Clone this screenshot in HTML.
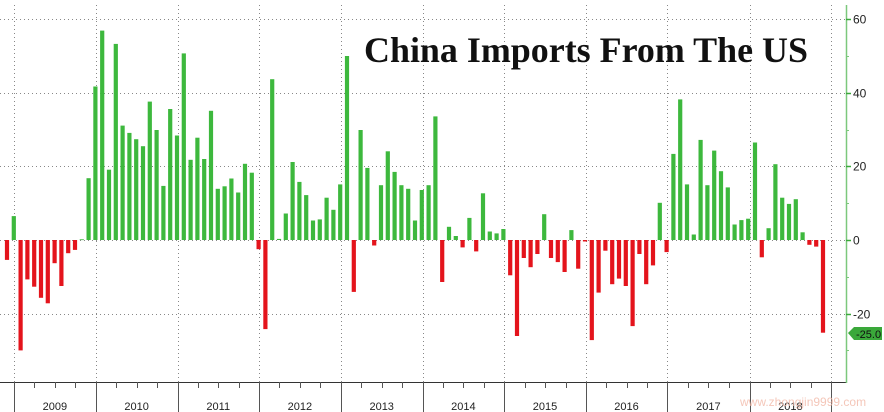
<!DOCTYPE html>
<html><head><meta charset="utf-8"><style>
html,body{margin:0;padding:0;background:#fff;width:884px;height:412px;overflow:hidden}
svg{display:block}
</style></head><body>
<svg id="s" width="884" height="412" xmlns="http://www.w3.org/2000/svg" font-family="Liberation Sans, sans-serif">
<rect width="884" height="412" fill="#fff"/>
<g id="grid" stroke="#888" stroke-width="1" stroke-dasharray="1,3"></g>
<g id="bars"></g>
<line x1="0" y1="382.5" x2="846" y2="382.5" stroke="#333" stroke-width="1"/>
<g id="ax" stroke="#555" stroke-width="1"></g>
<line x1="846.5" y1="5" x2="846.5" y2="383" stroke="#7cc87c" stroke-width="1.5"/>
<g id="yl" font-size="12" fill="#222"></g>
<g id="xl" font-size="11" fill="#222" text-anchor="middle"></g>
<polygon points="848,333 854,327 882,327 882,340 854,340" fill="#3aa83a"/>
<text x="856" y="338" font-size="11" fill="#111">-25.0</text>
<text x="364" y="62" font-family="Liberation Serif, serif" font-weight="bold" font-size="36" fill="#111" textLength="444" lengthAdjust="spacingAndGlyphs">China Imports From The US</text>
<text x="740" y="406" font-size="12" fill="#f2b9a8" opacity="0.8">www.zhongjin9999.com</text>
</svg>
<script>
var NS="http://www.w3.org/2000/svg";
function el(p,t,a,txt){var e=document.createElementNS(NS,t);for(var k in a)e.setAttribute(k,a[k]);if(txt!=null)e.textContent=txt;document.getElementById(p).appendChild(e);}
var Z=240,S=3.68;
// horizontal grid
[60,40,20,0,-20].forEach(function(v){var y=Math.round(Z-v*S)+0.5;el("grid","line",{x1:0,y1:y,x2:846,y2:y});
 el("yl","text",{x:853,y:y+4},String(v));
 el("yl","line",{x1:846,y1:y,x2:851,y2:y,stroke:"#3aa83a","stroke-width":1.5});});
// minor ticks on right axis
[50,30,10,-10,-30].forEach(function(v){var y=Math.round(Z-v*S)+0.5;el("yl","line",{x1:846,y1:y,x2:849,y2:y,stroke:"#7cc87c"});});
var yrs=[14,95.7,177.5,259,340.7,422.7,504,586,667,749.7,831];
yrs.forEach(function(x,i){var xx=Math.round(x)+0.5;
 el("grid","line",{x1:xx,y1:5,x2:xx,y2:382});
 el("ax","line",{x1:xx,y1:382,x2:xx,y2:412});
 if(i<yrs.length-1){el("xl","text",{x:(x+yrs[i+1])/2,y:410},String(2009+i));
  for(var q=1;q<4;q++){var tx=Math.round(x+q*(yrs[i+1]-x)/4)+0.5;el("ax","line",{x1:tx,y1:382,x2:tx,y2:388});}}
});
var d=[-5.4,6.5,-30,-10.7,-12.7,-15.7,-17.2,-6.3,-12.5,-3.6,-2.7,0.2,16.8,41.7,56.9,19.1,53.3,31.1,29.1,27.4,25.5,37.6,29.9,14.7,35.6,28.4,50.7,21.8,27.8,22,35.1,13.9,14.6,16.7,12.9,20.7,18.3,-2.5,-24.2,43.7,0.3,7.2,21.2,15.8,12.2,5.3,5.6,11.5,8.2,15.1,50,-14.1,29.9,19.6,-1.5,14.9,24.1,18.5,14.9,13.9,5.3,13.6,14.9,33.6,-11.4,3.6,1.1,-2,6,-3.1,12.7,2.3,1.8,3,-9.6,-26.1,-4.9,-7.4,-3.8,7,-4.9,-6,-8.7,2.7,-7.8,-0.4,-27.2,-14.3,-2.9,-12,-10.5,-12.5,-23.4,-3.8,-12,-6.9,10.1,-3.3,23.4,38.2,15.1,1.5,27.2,14.9,24.3,18.7,14.3,4.2,5.4,5.8,26.5,-4.7,3.2,20.6,11.5,9.8,11.1,2.1,-1.3,-1.8,-25.2];
d.forEach(function(v,i){var cx=7+i*6.8,h=Math.abs(v)*S;
 el("bars","rect",{x:(cx-2.1).toFixed(1),y:(v>=0?Z-h:Z).toFixed(1),width:4.2,height:Math.max(h,0.8).toFixed(1),fill:v>=0?"#3db83d":"#e4141c"});});
</script>
</body></html>
